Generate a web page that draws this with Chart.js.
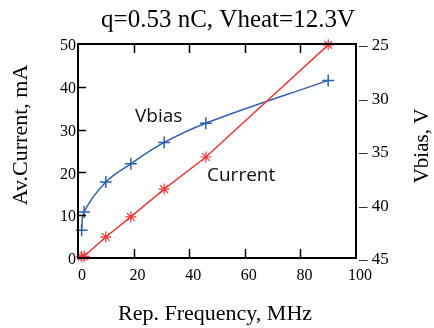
<!DOCTYPE html>
<html><head><meta charset="utf-8">
<script src="https://cdn.jsdelivr.net/npm/chart.js@4/dist/chart.umd.min.js"></script>
<style>html,body{margin:0;padding:0;background:#fff;}#wrap{width:434px;height:328px;position:relative;}canvas{display:block;}</style>
</head><body><div id="wrap"><canvas id="c" width="434" height="328"></canvas></div>
<script>
const chartTitle = "q=0.53 nC, Vheat=12.3V";
const xTitle = "Rep. Frequency, MHz";
const yTitle = "Av.Current, mA";
const y2Title = "Vbias, V";
const frequency = [1.3, 2.2, 10, 19, 31, 46, 90];
const current = [0.3, 0.4, 4.9, 9.6, 16.1, 23.6, 49.8];
const vbias = [-42.4, -40.7, -37.9, -36.2, -34.2, -32.4, -28.4];
const seriesNames = ["Current", "Vbias"];

const SERIF = '"Liberation Serif", "Times New Roman", serif';
const SANS = '"Open Sans", "DejaVu Sans", sans-serif';
const RED = '#ef3a36';
const BLUE = '#2f60b2';

const deco = {
  id: 'deco',
  afterDatasetsDraw(chart) {
    const ctx = chart.ctx, a = chart.chartArea;
    const x = chart.scales.x, y = chart.scales.y;
    ctx.save();
    ctx.strokeStyle = '#000';
    ctx.lineWidth = 2;
    ctx.strokeRect(a.left, a.top, a.right - a.left, a.bottom - a.top);
    ctx.lineWidth = 1.5;
    ctx.beginPath();
    [20, 40, 60, 80].forEach(v => {
      const px = Math.round(x.getPixelForValue(v)) + 0.5;
      ctx.moveTo(px, a.bottom); ctx.lineTo(px, a.bottom - 9);
      ctx.moveTo(px, a.top); ctx.lineTo(px, a.top + 9);
    });
    [10, 20, 30, 40].forEach(v => {
      const py = Math.round(y.getPixelForValue(v)) + 0.5;
      ctx.moveTo(a.left, py); ctx.lineTo(a.left + 8, py);
    });
    ctx.stroke();
    ctx.fillStyle = '#000';
    ctx.font = '25px ' + SERIF;
    ctx.textAlign = 'center'; ctx.textBaseline = 'alphabetic';
    ctx.fillText(chartTitle, 228, 27);
    ctx.font = '22px ' + SERIF;
    ctx.fillText(xTitle, 215, 320);
    ctx.save();
    ctx.translate(27, 135); ctx.rotate(-Math.PI / 2);
    ctx.fillText(yTitle, 0, 0);
    ctx.restore();
    ctx.save();
    ctx.font = '21px ' + SERIF;
    ctx.translate(428, 146); ctx.rotate(-Math.PI / 2);
    ctx.fillText(y2Title, 0, 0);
    ctx.restore();
    ctx.font = '19px ' + SANS;
    ctx.textAlign = 'left';
    ctx.fillStyle = '#111';
    ctx.fillText(seriesNames[1], x.getPixelForValue(20.5), y.getPixelForValue(31.8));
    ctx.fillText(seriesNames[0], x.getPixelForValue(46.4), y.getPixelForValue(18));
    ctx.restore();
  }
};

new Chart(document.getElementById('c'), {
  type: 'line',
  data: {
    datasets: [
      {
        label: seriesNames[0], yAxisID: 'y',
        data: frequency.map((f, i) => ({x: f, y: current[i]})),
        borderColor: RED, backgroundColor: RED, borderWidth: 1.5,
        pointStyle: 'star', pointRadius: 5.5, pointBorderWidth: 1.2,
        pointBorderColor: RED, tension: 0, clip: false
      },
      {
        label: seriesNames[1], yAxisID: 'y2',
        data: frequency.map((f, i) => ({x: f, y: vbias[i]})),
        borderColor: BLUE, backgroundColor: BLUE, borderWidth: 1.5,
        pointStyle: 'cross', pointRadius: 6, pointBorderWidth: 1.5,
        pointBorderColor: BLUE, tension: 0.4, clip: false
      }
    ]
  },
  options: {
    responsive: false, animation: false, devicePixelRatio: 1,
    layout: {padding: {top: 44, left: 0, right: 0, bottom: 0}},
    plugins: {legend: {display: false}, tooltip: {enabled: false}, title: {display: false}},
    scales: {
      x: {
        type: 'linear', min: 0, max: 100,
        afterFit(s) { s.height = 70; },
        afterBuildTicks(s) { s.ticks = [0,20,40,60,80,100].map(v => ({value: v})); },
        border: {display: false}, grid: {display: false, drawTicks: false},
        ticks: {color: '#000', font: {family: SERIF, size: 16}, padding: 8, labelOffset: 4, maxRotation: 0}
      },
      y: {
        type: 'linear', position: 'left', min: 0, max: 50,
        afterFit(s) { s.width = 78; },
        afterBuildTicks(s) { s.ticks = [0,10,20,30,40,50].map(v => ({value: v})); },
        border: {display: false}, grid: {display: false, drawTicks: false},
        ticks: {color: '#000', font: {family: SERIF, size: 16}, padding: 2, labelOffset: 2}
      },
      y2: {
        type: 'linear', position: 'right', min: -45, max: -25,
        afterFit(s) { s.width = 78; },
        afterBuildTicks(s) { s.ticks = [-45,-40,-35,-30,-25].map(v => ({value: v})); },
        border: {display: false}, grid: {display: false, drawTicks: false},
        ticks: {color: '#000', font: {family: SERIF, size: 17}, padding: 3, labelOffset: 2,
          callback: v => (v < 0 ? '\u2013 ' + (-v) : String(v))}
      }
    }
  },
  plugins: [deco]
});
</script>
</body></html>
